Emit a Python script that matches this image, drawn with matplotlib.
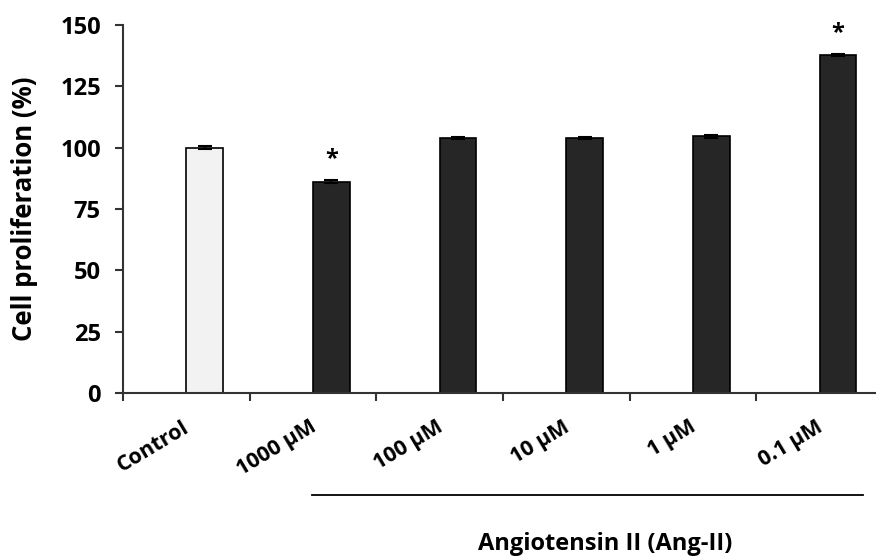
import numpy as np
import matplotlib
matplotlib.use('Agg')
import matplotlib.pyplot as plt
import matplotlib.transforms as mtransforms

groups = ['Control', '1000 µM', '100 µM', '10 µM', '1 µM', '0.1 µM']
values = [100.0, 86.2, 104.0, 104.0, 104.6, 137.8]
errors = [0.5, 0.5, 0.5, 0.5, 0.6, 0.4]
signif = ['', '*', '', '', '', '*']
yticks = [0, 25, 50, 75, 100, 125, 150]

plt.rcParams['font.family'] = ['Open Sans', 'DejaVu Sans']
plt.rcParams['font.weight'] = 'bold'

fig = plt.figure(figsize=(8.76, 5.59), dpi=100)
ax = fig.add_axes([0.1404, 0.2970, 0.8676, 0.6583])

x = np.arange(len(groups))
bw = 0.29
colors = ['#f2f2f2'] + ['#262626'] * (len(groups) - 1)
ax.bar(x, values, width=bw, align='edge', color=colors, edgecolor='black', linewidth=1.2, zorder=2)
ax.errorbar(x + bw / 2, values, yerr=errors, fmt='none', ecolor='black', elinewidth=1.5,
            capsize=5, capthick=1.5, zorder=3)

for xi, v, s in zip(x, values, signif):
    if s:
        ax.annotate(s, (xi + bw / 2, v), xytext=(0, 16), textcoords='offset points',
                    ha='center', va='center', fontsize=17, fontweight='bold', annotation_clip=False)

ax.set_xlim(-0.5, len(groups) - 0.5)
ax.set_ylim(0, 150)
ax.set_yticks(yticks)
ax.set_yticklabels([str(t) for t in yticks], fontsize=17, fontweight='bold')
ax.set_xticks(np.arange(len(groups) + 1) - 0.5)
ax.set_xticklabels([])
ax.set_xticks(x - 0.03, minor=True)
ax.set_xticklabels(groups, minor=True, rotation=31, ha='right', rotation_mode='anchor',
                   fontsize=15.5, fontweight='bold')
ax.tick_params(axis='x', which='minor', length=0, pad=17)
ax.tick_params(axis='both', which='major', direction='out', length=6, width=1.5, color='#333333')
ax.tick_params(axis='y', pad=10)
ax.spines['top'].set_visible(False)
ax.spines['right'].set_visible(False)
ax.spines['left'].set_linewidth(1.5)
ax.spines['bottom'].set_linewidth(1.5)
ax.spines['left'].set_color('#333333')
ax.spines['bottom'].set_color('#333333')
ax.set_ylabel('Cell proliferation (%)', fontsize=18.5, fontweight='bold', labelpad=16)

trans = mtransforms.blended_transform_factory(ax.transData, ax.transAxes)
ax.plot([1 - 0.01, len(groups) - 1 + bw + 0.05], [-0.277, -0.277], color='black', lw=1.3,
        transform=trans, clip_on=False)
ax.text(3.31, -0.41, 'Angiotensin II (Ang-II)', transform=trans, ha='center', va='center',
        fontsize=17, fontweight='bold')

fig.savefig('out.png', dpi=100, facecolor='white')
